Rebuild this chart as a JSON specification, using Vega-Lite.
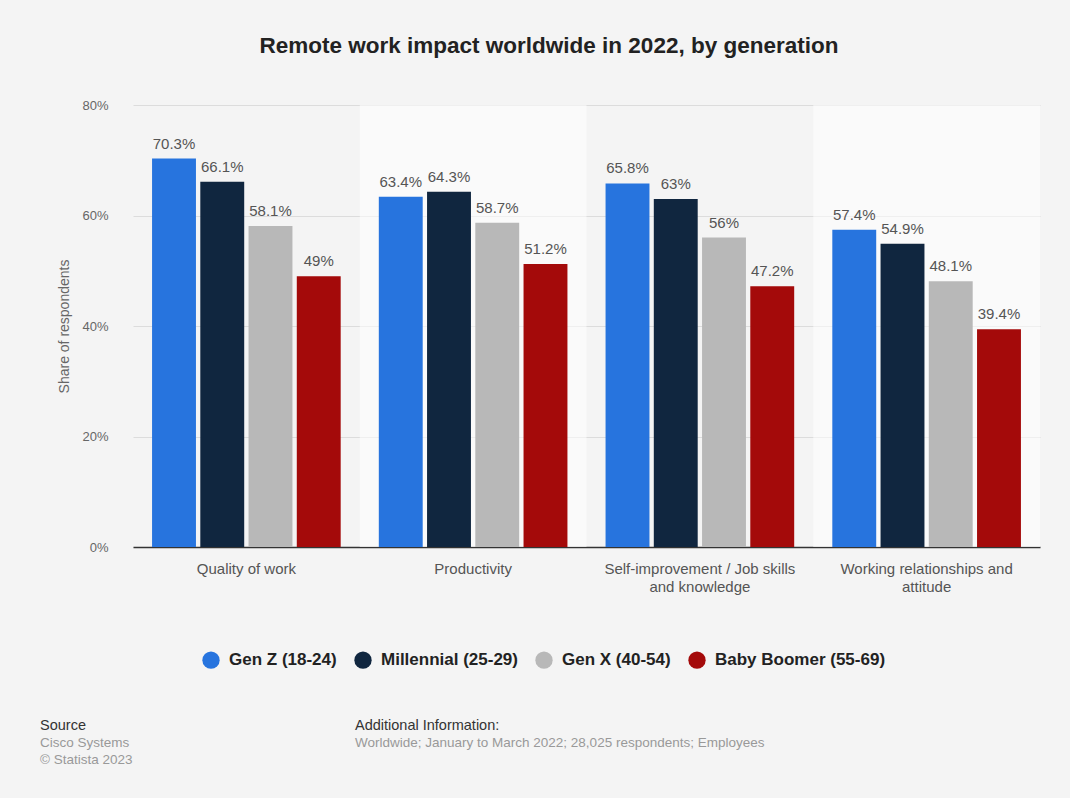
{
  "$schema": "https://vega.github.io/schema/vega-lite/v6.json",
  "background": "#f4f4f4",
  "padding": {"top": 34, "left": 40, "right": 30, "bottom": 31},
  "config": {
    "font": "Liberation Sans",
    "view": {"stroke": null},
    "concat": {"spacing": 179}
  },
  "resolve": {
    "scale": {"x": "independent", "y": "independent", "color": "independent"},
    "axis": {"x": "independent", "y": "independent"},
    "legend": {"color": "independent"}
  },
  "bounds": "flush",
  "datasets": {
    "main": [
      {"cat": "Quality of work", "gen": "Gen Z (18-24)", "value": 0.703},
      {"cat": "Quality of work", "gen": "Millennial (25-29)", "value": 0.661},
      {"cat": "Quality of work", "gen": "Gen X (40-54)", "value": 0.581},
      {"cat": "Quality of work", "gen": "Baby Boomer (55-69)", "value": 0.49},
      {"cat": "Productivity", "gen": "Gen Z (18-24)", "value": 0.634},
      {"cat": "Productivity", "gen": "Millennial (25-29)", "value": 0.643},
      {"cat": "Productivity", "gen": "Gen X (40-54)", "value": 0.587},
      {"cat": "Productivity", "gen": "Baby Boomer (55-69)", "value": 0.512},
      {"cat": "Self-improvement / Job skills and knowledge", "gen": "Gen Z (18-24)", "value": 0.658},
      {"cat": "Self-improvement / Job skills and knowledge", "gen": "Millennial (25-29)", "value": 0.63},
      {"cat": "Self-improvement / Job skills and knowledge", "gen": "Gen X (40-54)", "value": 0.56},
      {"cat": "Self-improvement / Job skills and knowledge", "gen": "Baby Boomer (55-69)", "value": 0.472},
      {"cat": "Working relationships and attitude", "gen": "Gen Z (18-24)", "value": 0.574},
      {"cat": "Working relationships and attitude", "gen": "Millennial (25-29)", "value": 0.549},
      {"cat": "Working relationships and attitude", "gen": "Gen X (40-54)", "value": 0.481},
      {"cat": "Working relationships and attitude", "gen": "Baby Boomer (55-69)", "value": 0.394}
    ],
    "footer": [
      {"col": "Source", "line": 1, "text": "Source", "kind": "head"},
      {"col": "Source", "line": 2, "text": "Cisco Systems", "kind": "body"},
      {"col": "Source", "line": 3, "text": "© Statista 2023", "kind": "body"},
      {"col": "Additional Information", "line": 1, "text": "Additional Information:", "kind": "head"},
      {"col": "Additional Information", "line": 2, "text": "Worldwide; January to March 2022; 28,025 respondents; Employees", "kind": "body"}
    ]
  },
  "vconcat": [
    {
      "width": 907,
      "height": 442,
      "title": {
        "text": "Remote work impact worldwide in 2022, by generation",
        "frame": "bounds",
        "anchor": "middle",
        "fontSize": 22.5,
        "fontWeight": "bold",
        "color": "#222222",
        "offset": 42
      },
      "data": {"name": "main"},
      "encoding": {
        "x": {
          "field": "cat",
          "type": "nominal",
          "sort": ["Quality of work", "Productivity", "Self-improvement / Job skills and knowledge", "Working relationships and attitude"],
          "scale": {"paddingInner": 0, "paddingOuter": 0},
          "axis": {
            "title": null,
            "labelAngle": 0,
            "ticks": false,
            "domainColor": "#333333",
            "domainWidth": 1.5,
            "labelColor": "#555555",
            "labelFontSize": 15,
            "labelPadding": 14,
            "labelLineHeight": 18,
            "labelLimit": 300,
            "labelExpr": "datum.value == 'Self-improvement / Job skills and knowledge' ? ['Self-improvement / Job skills', 'and knowledge'] : datum.value == 'Working relationships and attitude' ? ['Working relationships and', 'attitude'] : datum.value"
          }
        }
      },
      "layer": [
        {
          "transform": [
            {"filter": "datum.gen == 'Gen Z (18-24)' && (datum.cat == 'Productivity' || datum.cat == 'Working relationships and attitude')"}
          ],
          "mark": {"type": "bar", "color": "#ffffff", "opacity": 0.55},
          "encoding": {}
        },
        {
          "mark": {"type": "bar"},
          "encoding": {
            "xOffset": {
              "field": "gen",
              "type": "nominal",
              "sort": ["Gen Z (18-24)", "Millennial (25-29)", "Gen X (40-54)", "Baby Boomer (55-69)"],
              "scale": {"paddingInner": 0.09, "paddingOuter": 0.395}
            },
            "y": {
              "field": "value",
              "type": "quantitative",
              "scale": {"domain": [0, 0.8]},
              "axis": {
                "title": "Share of respondents",
                "titleColor": "#666666",
                "titleFontSize": 14,
                "titleFontWeight": "normal",
                "titlePadding": 10,
                "format": ".0%",
                "values": [0, 0.2, 0.4, 0.6, 0.8],
                "ticks": false,
                "domain": false,
                "labelColor": "#666666",
                "labelFontSize": 13,
                "labelPadding": 25,
                "gridColor": "#dcdcdc",
                "gridWidth": 1
              }
            },
            "color": {
              "field": "gen",
              "type": "nominal",
              "sort": ["Gen Z (18-24)", "Millennial (25-29)", "Gen X (40-54)", "Baby Boomer (55-69)"],
              "scale": {
                "domain": ["Gen Z (18-24)", "Millennial (25-29)", "Gen X (40-54)", "Baby Boomer (55-69)"],
                "range": ["#2774de", "#10263f", "#b8b8b8", "#a40a0a"]
              },
              "legend": {
                "title": null,
                "orient": "none",
                "direction": "horizontal",
                "legendX": 69,
                "legendY": 546,
                "symbolType": "circle",
                "symbolSize": 300,
                "symbolStrokeWidth": 0,
                "labelFontSize": 17,
                "labelFontWeight": "bold",
                "labelColor": "#222222",
                "labelOffset": 9,
                "labelLimit": 300,
                "columnPadding": 17
              }
            }
          }
        },
        {
          "mark": {"type": "text", "baseline": "bottom", "dy": -7, "fontSize": 15, "color": "#555555"},
          "encoding": {
            "xOffset": {
              "field": "gen",
              "type": "nominal",
              "sort": ["Gen Z (18-24)", "Millennial (25-29)", "Gen X (40-54)", "Baby Boomer (55-69)"],
              "scale": {"paddingInner": 0.09, "paddingOuter": 0.395}
            },
            "y": {"field": "value", "type": "quantitative"},
            "text": {"field": "value", "type": "quantitative", "format": ".1~%"}
          }
        }
      ]
    },
    {
      "width": 907,
      "height": 34,
      "data": {"name": "footer"},
      "encoding": {
        "x": {
          "field": "col",
          "type": "nominal",
          "sort": ["Source", "Additional Information"],
          "scale": {"type": "point", "range": [-93, 222], "padding": 0},
          "axis": null
        },
        "y": {
          "field": "line",
          "type": "ordinal",
          "scale": {"type": "point", "padding": 0},
          "axis": null
        },
        "text": {"field": "text"}
      },
      "layer": [
        {
          "transform": [{"filter": "datum.kind == 'head'"}],
          "mark": {"type": "text", "align": "left", "baseline": "middle", "fontSize": 14.5, "color": "#333333"}
        },
        {
          "transform": [{"filter": "datum.kind == 'body'"}],
          "mark": {"type": "text", "align": "left", "baseline": "middle", "fontSize": 13.5, "color": "#999999"}
        }
      ]
    }
  ]
}
